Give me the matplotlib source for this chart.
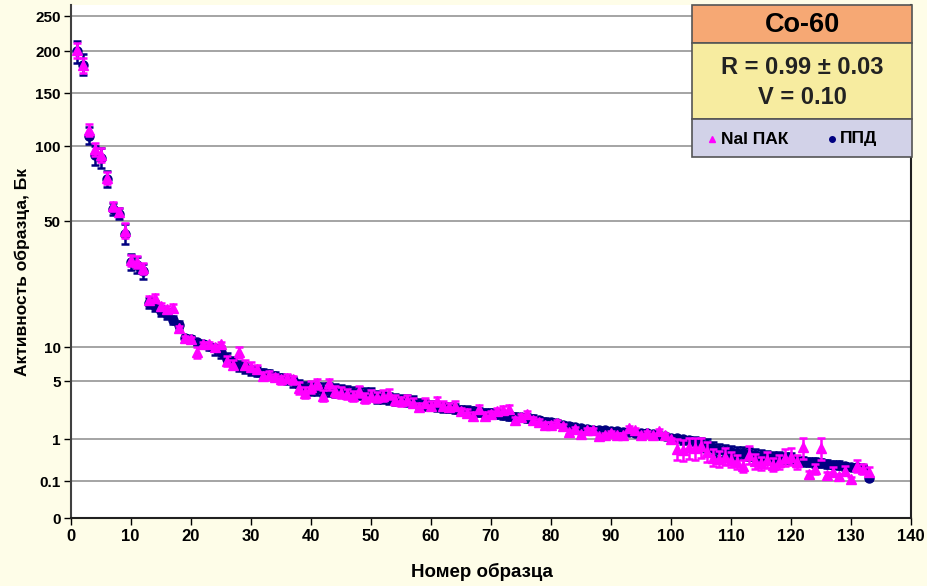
import numpy as np
import matplotlib.pyplot as plt
from matplotlib.patches import Rectangle
from matplotlib.lines import Line2D

plt.rcParams['font.family'] = ['Liberation Sans', 'DejaVu Sans']
plt.rcParams['font.weight'] = 'bold'

# sample numbers 1..133
samples = np.arange(1, 134)

# ППД (semiconductor detector), Bq
ppd = [200, 184, 110, 94, 92, 78, 58, 55, 46, 37,
       36, 34, 24, 23, 21.5, 20.5, 18.5, 17, 13, 12.5,
       11.5, 11, 10.3, 9.8, 9.3, 8.3, 7.8, 7.2, 6.9, 6.6,
       6.4, 6.2, 6.0, 5.8, 5.5, 5.3, 5.1, 4.7, 4.5, 4.5,
       4.45, 4.4, 4.4, 4.35, 4.3, 4.25, 4.2, 4.2, 4.1, 4.1,
       3.9, 3.85, 3.8, 3.75, 3.7, 3.65, 3.6, 3.4, 3.35, 3.3,
       3.25, 3.2, 3.15, 3.1, 3.0, 2.95, 2.9, 2.85, 2.8, 2.8,
       2.7, 2.65, 2.6, 2.55, 2.5, 2.45, 2.4, 2.3, 2.2, 2.15,
       2.1, 2.0, 1.9, 1.8, 1.75, 1.7, 1.65, 1.6, 1.6, 1.55,
       1.55, 1.5, 1.5, 1.45, 1.45, 1.4, 1.35, 1.3, 1.2, 1.1,
       1.05, 1.0, 0.97, 0.94, 0.9, 0.87, 0.8, 0.76, 0.74, 0.72,
       0.71, 0.70, 0.68, 0.66, 0.64, 0.63, 0.62, 0.61, 0.60, 0.59,
       0.53, 0.52, 0.51, 0.50, 0.49, 0.47, 0.45, 0.44, 0.42, 0.40,
       0.39, 0.38, 0.16]

# NaI ПАК, Bq
nai = [202, 183, 115, 98, 94, 79, 60, 56, 47, 37.5,
       37, 35, 25, 25.5, 23, 22, 22.5, 16, 13, 12.5,
       9.3, 11, 11, 10, 11, 8.0, 7.4, 9.3, 7.4, 7.1,
       6.8, 5.8, 5.9, 5.6, 5.3, 5.5, 5.3, 4.5, 4.2, 4.6,
       4.9, 4.0, 4.85, 4.3, 4.2, 4.1, 3.95, 4.3, 3.8, 4.0,
       3.9, 4.0, 4.1, 3.7, 3.6, 3.7, 3.5, 3.2, 3.5, 3.3,
       3.6, 3.3, 3.2, 3.3, 2.9, 2.8, 2.6, 3.1, 2.6, 2.7,
       2.9, 3.0, 3.1, 2.3, 2.5, 2.7, 2.3, 2.2, 2.0, 2.0,
       2.1, 1.9, 1.5, 1.7, 1.35, 1.6, 1.6, 1.2, 1.3, 1.4,
       1.3, 1.3, 1.75, 1.6, 1.25, 1.45, 1.25, 1.55, 1.3, 1.0,
       0.78, 0.76, 0.82, 0.8, 0.85, 0.72, 0.6, 0.58, 0.62, 0.56,
       0.5, 0.42, 0.66, 0.52, 0.48, 0.55, 0.45, 0.5, 0.6, 0.62,
       0.5, 0.82, 0.24, 0.35, 0.8, 0.22, 0.3, 0.2, 0.32, 0.14,
       0.42, 0.35, 0.3]

y_ticks = [0, 0.1, 1, 5, 10, 50, 100, 150, 200, 250]
x_ticks = list(range(0, 141, 10))

# the original y axis is hand made: tick values are not evenly spaced on any
# standard scale, so map them piecewise-linearly onto their spacing
scale_vals = [0, 0.1, 1, 5, 10, 50, 100, 150, 200, 250, 300]
scale_pos = [0, 37, 79, 137, 171, 297, 372, 425, 467, 502, 537]


def fwd(v):
    return np.interp(np.asarray(v, dtype=float), scale_vals, scale_pos)


def inv(p):
    return np.interp(np.asarray(p, dtype=float), scale_pos, scale_vals)


def rel_err(vals, hi, mid, lo):
    v = np.asarray(vals)
    return v * np.where(v >= 10, hi, np.where(v >= 1, mid, lo))


W, H = 927, 586
fig = plt.figure(figsize=(W / 100, H / 100), dpi=100)
fig.patch.set_facecolor('#FEFDE8')
ax = fig.add_axes([70.5 / W, (H - 518) / H, 840.5 / W, 513 / H])
ax.set_facecolor('white')

ax.set_yscale('function', functions=(fwd, inv))
ax.set_ylim(0, 266)
ax.set_xlim(0, 140)

ax.errorbar(samples, ppd, yerr=rel_err(ppd, 0.07, 0.1, 0.18), fmt='o',
            color='#000080', ms=6.5, elinewidth=1.8, capsize=3, capthick=1.8,
            zorder=3)
ax.errorbar(samples, nai, yerr=rel_err(nai, 0.05, 0.09, 0.3), fmt='^',
            color='#FF00FF', ms=7.5, elinewidth=1.8, capsize=3, capthick=1.8,
            zorder=4)

ax.set_yticks(y_ticks)
ax.set_yticklabels([str(t) for t in y_ticks])
ax.set_xticks(x_ticks)
ax.minorticks_off()
ax.yaxis.grid(True, color='#8c8c8c', lw=1.1)
ax.set_axisbelow(True)
ax.tick_params(axis='y', length=5, width=1, pad=2, labelsize=11)
ax.tick_params(axis='x', length=5, width=1, pad=3, labelsize=11)
for lab in ax.get_xticklabels():
    lab.set_family(['Liberation Sans Narrow', 'Liberation Sans'])
    lab.set_fontsize(12)
for lab in ax.get_yticklabels() + ax.get_xticklabels():
    lab.set_fontweight('bold')

ax.spines['top'].set_visible(False)
ax.spines['left'].set_color('#404040')
ax.spines['left'].set_linewidth(1.5)
ax.spines['bottom'].set_color('#202020')
ax.spines['bottom'].set_linewidth(1.5)
ax.spines['right'].set_color('#202020')
ax.spines['right'].set_linewidth(1.5)

ax.set_xlabel('Номер образца', fontsize=13.5, fontweight='bold', va='top')
ax.xaxis.set_label_coords(0.49, -0.087)
ax.set_ylabel('Активность образца, Бк', fontsize=12.5, fontweight='bold')
ax.yaxis.set_label_coords(-0.048, 0.48)


# legend panel in figure pixels (top-down)
def fy(py):
    return 1 - py / H


bx0, bx1 = 692 / W, 912 / W
sections = [(5, 43, '#F6A874'), (43, 119, '#F7ECA0'), (119, 157, '#D2D2E8')]
for top, bot, col in sections:
    fig.add_artist(Rectangle((bx0, fy(bot)), bx1 - bx0, fy(top) - fy(bot),
                             transform=fig.transFigure, facecolor=col,
                             edgecolor='#555555', lw=1.2, zorder=10))

cx = 802 / W
fig.text(cx, fy(25), 'Co-60', ha='center', va='center', fontsize=19.5,
         fontweight='bold', zorder=11)
fig.text(cx, fy(67), 'R = 0.99 ± 0.03', ha='center', va='center', fontsize=17,
         fontweight='bold', color='#222222', zorder=11)
fig.text(cx, fy(97), 'V = 0.10', ha='center', va='center', fontsize=17,
         fontweight='bold', color='#222222', zorder=11)

fig.add_artist(Line2D([712 / W], [fy(139)], marker='^', color='#FF00FF', ms=5,
                      transform=fig.transFigure, zorder=11))
fig.text(721 / W, fy(139), 'NaI ПАК', ha='left', va='center', fontsize=12.5,
         fontweight='bold', zorder=11)
fig.add_artist(Line2D([832 / W], [fy(139)], marker='o', color='#000080', ms=4,
                      transform=fig.transFigure, zorder=11))
fig.text(840 / W, fy(139), 'ППД', ha='left', va='center', fontsize=12.5,
         fontweight='bold', zorder=11)

fig.savefig('out.png', dpi=100, facecolor=fig.get_facecolor())
